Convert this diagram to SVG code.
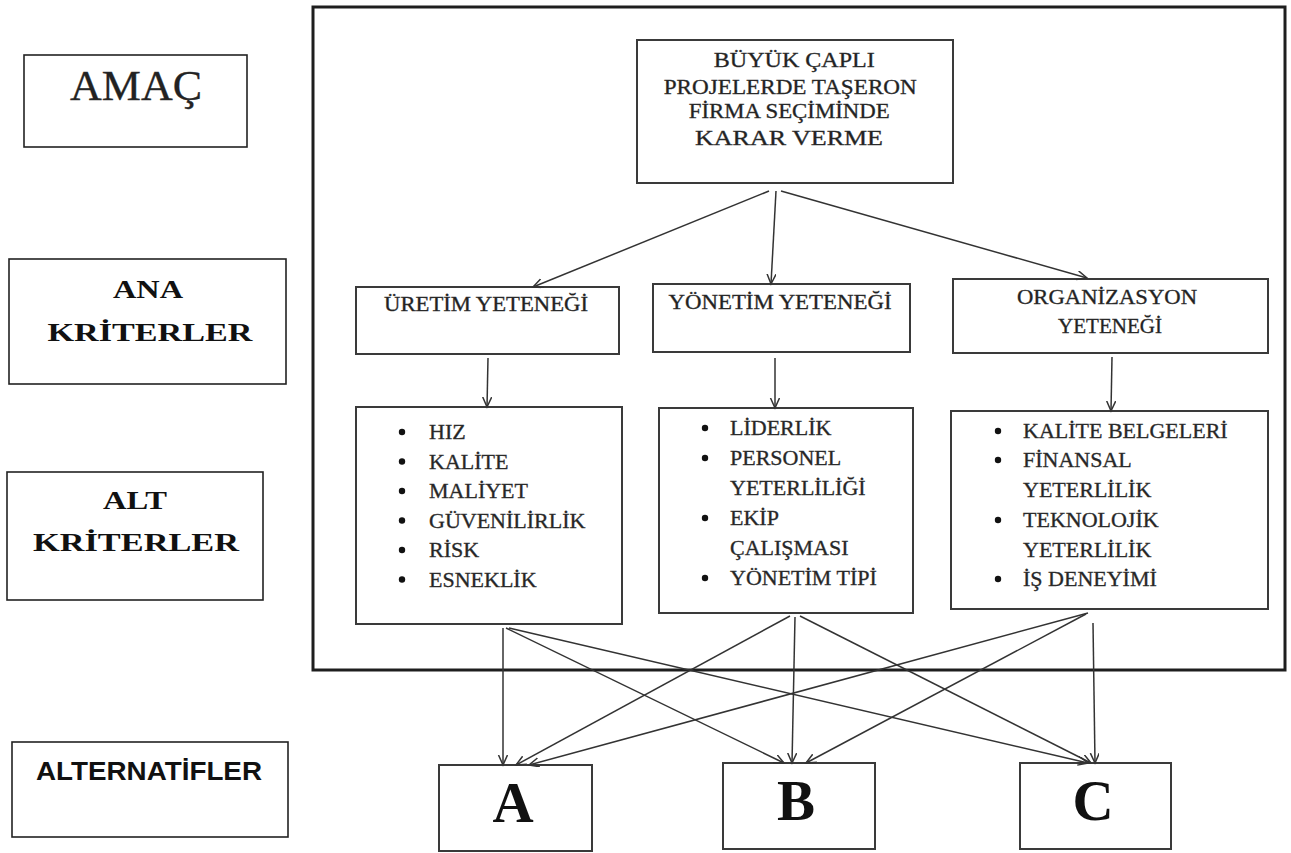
<svg xmlns="http://www.w3.org/2000/svg" width="1291" height="853" viewBox="0 0 1291 853">
  <style>
    .lbl { fill: #fff; stroke: #222; stroke-width: 1.6; }
    .box { fill: #fff; stroke: #3a3a3a; stroke-width: 2; }
    .frame { fill: none; stroke: #1e1e1e; stroke-width: 3; }
    .t { font-family: "Liberation Serif", "Times New Roman", serif; fill: #222; stroke: #333; stroke-width: 0.35px; }
    .lt { font-family: "Liberation Serif", "Times New Roman", serif; fill: #111; font-weight: bold; }
    .st { font-family: "Liberation Serif", "Times New Roman", serif; fill: #262626; font-size: 22px; stroke: #333; stroke-width: 0.35px; }
    .big { font-family: "Liberation Serif", "Times New Roman", serif; fill: #111; font-weight: bold; font-size: 57px; }
    .conn line { stroke: #333; stroke-width: 1.5; marker-end: url(#ah); }
  </style>
  <defs>
    <marker id="ah" markerUnits="userSpaceOnUse" markerWidth="12" markerHeight="12" refX="10" refY="4.5" orient="auto">
      <path d="M0,0 L10,4.5 L0,9" fill="none" stroke="#333" stroke-width="1.5"/>
    </marker>
  </defs>
  <rect width="1291" height="853" fill="#fff"/>

  <!-- level labels -->
  <g id="lbl-amac">
    <rect class="lbl" x="24" y="55" width="223" height="92"/>
    <text class="t" x="136" y="100" font-size="42" text-anchor="middle" textLength="132" lengthAdjust="spacingAndGlyphs" fill="#111">AMAÇ</text>
  </g>
  <g id="lbl-ana">
    <rect class="lbl" x="9" y="259" width="277" height="125"/>
    <text class="lt" x="148" y="298" font-size="26" text-anchor="middle" textLength="70" lengthAdjust="spacingAndGlyphs">ANA</text>
    <text class="lt" x="150" y="341" font-size="26" text-anchor="middle" textLength="205" lengthAdjust="spacingAndGlyphs">KRİTERLER</text>
  </g>
  <g id="lbl-alt">
    <rect class="lbl" x="7" y="472" width="256" height="128"/>
    <text class="lt" x="135" y="509" font-size="26" text-anchor="middle" textLength="64" lengthAdjust="spacingAndGlyphs">ALT</text>
    <text class="lt" x="136" y="551" font-size="26" text-anchor="middle" textLength="206" lengthAdjust="spacingAndGlyphs">KRİTERLER</text>
  </g>
  <g id="lbl-alternatifler">
    <rect class="lbl" x="12" y="742" width="276" height="95"/>
    <text x="149" y="780" font-family="Liberation Sans, Arial, sans-serif" font-weight="bold" font-size="25" fill="#111" text-anchor="middle" textLength="226" lengthAdjust="spacingAndGlyphs">ALTERNATİFLER</text>
  </g>

  <!-- outer frame -->
  <rect id="frame" class="frame" x="313" y="7" width="972" height="663"/>

  <!-- goal -->
  <g id="goal">
    <rect class="box" x="637" y="40" width="316" height="143"/>
    <text class="t" font-size="22" text-anchor="middle">
      <tspan x="797" y="67" textLength="161" lengthAdjust="spacingAndGlyphs">BÜYÜK  ÇAPLI</tspan>
      <tspan x="793" y="94" textLength="253" lengthAdjust="spacingAndGlyphs">PROJELERDE  TAŞERON</tspan>
      <tspan x="792" y="118" textLength="201" lengthAdjust="spacingAndGlyphs">FİRMA SEÇİMİNDE</tspan>
      <tspan x="789" y="145" textLength="188" lengthAdjust="spacingAndGlyphs">KARAR VERME</tspan>
    </text>
  </g>

  <!-- main criteria -->
  <g id="uretim">
    <rect class="box" x="356" y="287" width="263" height="67"/>
    <text class="t" x="486" y="311" font-size="22" text-anchor="middle" textLength="204" lengthAdjust="spacingAndGlyphs">ÜRETİM  YETENEĞİ</text>
  </g>
  <g id="yonetim">
    <rect class="box" x="653" y="284" width="257" height="68"/>
    <text class="t" x="780" y="309" font-size="22" text-anchor="middle" textLength="223" lengthAdjust="spacingAndGlyphs">YÖNETİM  YETENEĞİ</text>
  </g>
  <g id="organizasyon">
    <rect class="box" x="953" y="279" width="315" height="74"/>
    <text class="t" x="1107" y="304" font-size="22" text-anchor="middle" textLength="180" lengthAdjust="spacingAndGlyphs">ORGANİZASYON</text>
    <text class="t" x="1110" y="333" font-size="22" text-anchor="middle" textLength="104" lengthAdjust="spacingAndGlyphs">YETENEĞİ</text>
  </g>

  <!-- sub criteria -->
  <g id="sub-uretim">
    <rect class="box" x="356" y="407" width="266" height="217"/>
    <g fill="#111">
      <circle cx="402" cy="432" r="3.2"/><circle cx="402" cy="461.5" r="3.2"/><circle cx="402" cy="491" r="3.2"/>
      <circle cx="402" cy="520.5" r="3.2"/><circle cx="402" cy="550" r="3.2"/><circle cx="402" cy="579.5" r="3.2"/>
    </g>
    <text class="st" x="429" y="439">HIZ</text>
    <text class="st" x="429" y="468.5">KALİTE</text>
    <text class="st" x="429" y="498">MALİYET</text>
    <text class="st" x="429" y="527.5">GÜVENİLİRLİK</text>
    <text class="st" x="429" y="557">RİSK</text>
    <text class="st" x="429" y="586.5">ESNEKLİK</text>
  </g>
  <g id="sub-yonetim">
    <rect class="box" x="659" y="408" width="254" height="205"/>
    <g fill="#111">
      <circle cx="705" cy="428" r="3.2"/><circle cx="705" cy="458" r="3.2"/>
      <circle cx="705" cy="518" r="3.2"/><circle cx="705" cy="578" r="3.2"/>
    </g>
    <text class="st" x="730" y="435">LİDERLİK</text>
    <text class="st" x="730" y="465">PERSONEL</text>
    <text class="st" x="730" y="495">YETERLİLİĞİ</text>
    <text class="st" x="730" y="525">EKİP</text>
    <text class="st" x="730" y="555">ÇALIŞMASI</text>
    <text class="st" x="730" y="585">YÖNETİM  TİPİ</text>
  </g>
  <g id="sub-organizasyon">
    <rect class="box" x="951" y="411" width="317" height="198"/>
    <g fill="#111">
      <circle cx="998" cy="431" r="3.2"/><circle cx="998" cy="460" r="3.2"/>
      <circle cx="998" cy="520" r="3.2"/><circle cx="998" cy="579" r="3.2"/>
    </g>
    <text class="st" x="1023" y="438">KALİTE BELGELERİ</text>
    <text class="st" x="1023" y="467">FİNANSAL</text>
    <text class="st" x="1023" y="497">YETERLİLİK</text>
    <text class="st" x="1023" y="527">TEKNOLOJİK</text>
    <text class="st" x="1023" y="557">YETERLİLİK</text>
    <text class="st" x="1023" y="586">İŞ DENEYİMİ</text>
  </g>

  <!-- alternatives -->
  <g id="alt-a">
    <rect class="box" x="439" y="765" width="153" height="86"/>
    <text class="big" x="513" y="822" text-anchor="middle">A</text>
  </g>
  <g id="alt-b">
    <rect class="box" x="723" y="763" width="152" height="86"/>
    <text class="big" x="796" y="820" text-anchor="middle">B</text>
  </g>
  <g id="alt-c">
    <rect class="box" x="1020" y="763" width="151" height="86"/>
    <text class="big" x="1093" y="820" text-anchor="middle">C</text>
  </g>

  <!-- connectors -->
  <g id="connectors" class="conn">
    <line x1="769" y1="191" x2="533" y2="287"/>
    <line x1="776" y1="191" x2="771" y2="284"/>
    <line x1="781" y1="191" x2="1087" y2="278"/>
    <line x1="488" y1="358" x2="487" y2="407"/>
    <line x1="775" y1="358" x2="775" y2="408"/>
    <line x1="1112" y1="357" x2="1111" y2="411"/>
    <line x1="503" y1="628" x2="503" y2="765"/>
    <line x1="506" y1="628" x2="784" y2="763"/>
    <line x1="509" y1="628" x2="1088" y2="763"/>
    <line x1="790" y1="616" x2="516" y2="765"/>
    <line x1="795" y1="617" x2="792" y2="763"/>
    <line x1="800" y1="616" x2="1091" y2="763"/>
    <line x1="1088" y1="613" x2="529" y2="765"/>
    <line x1="1086" y1="614" x2="806" y2="763"/>
    <line x1="1093" y1="623" x2="1095" y2="763"/>
  </g>
</svg>
